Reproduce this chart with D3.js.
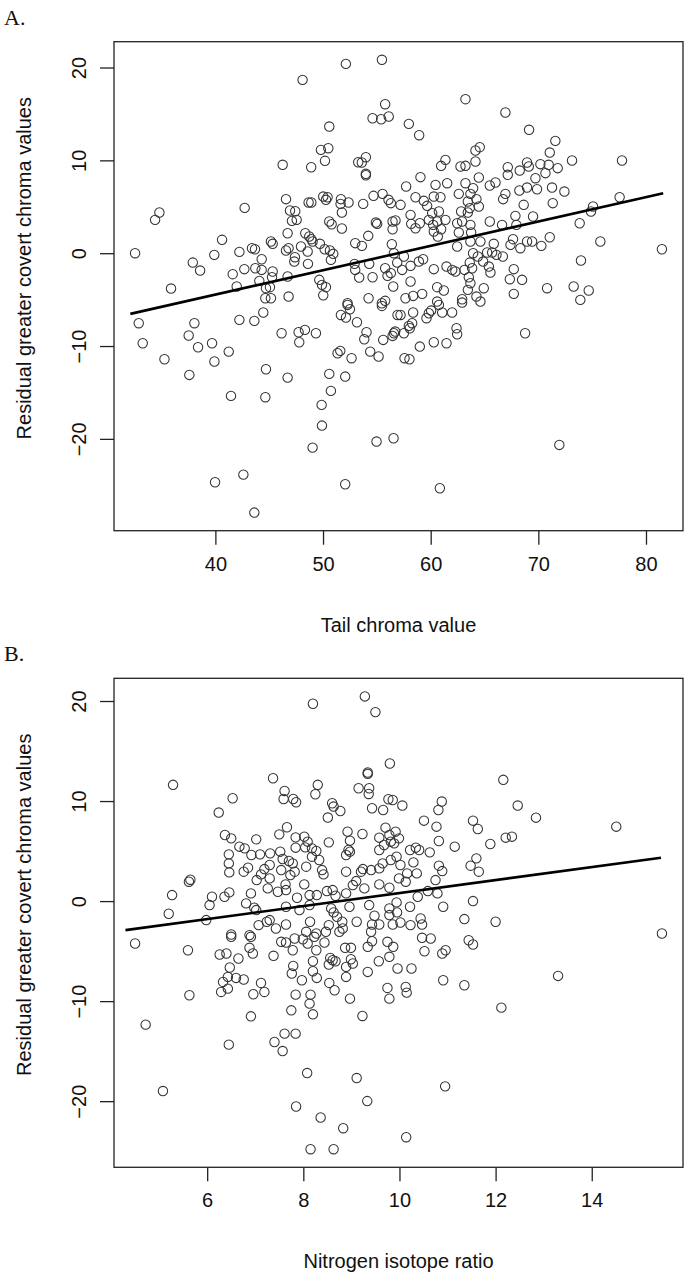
<!DOCTYPE html>
<html><head><meta charset="utf-8">
<script src="https://cdn.jsdelivr.net/npm/d3@7"></script>
<style>body{margin:0;background:#fff}</style>
</head><body><svg id="c" width="685" height="1275"></svg>
<script>
// Panel A: tail chroma value vs residual greater covert chroma
const panelAPoints = [
[52.12,20.39],[55.47,20.83],[48.1,18.67],[55.77,16.05],[54.6,14.54],[55.4,14.43],[56.1,14.72],[50.58,13.64],[49.8,11.13],[50.49,11.31],[50.18,9.95],[46.25,9.52],[48.9,9.26],[53.27,9.8],[53.98,10.34],[53.6,9.77],[53.98,8.55],[53.98,8.4],[34.8,4.38],[34.4,3.59],[42.72,4.88],[46.56,5.82],[46.93,4.6],[47.42,4.52],[47.11,3.48],[47.55,3.59],[48.66,5.46],[48.91,5.46],[50.02,6.1],[50.27,5.75],[50.42,6.03],[51.66,5.82],[51.63,5.31],[52.37,5.46],[51.75,4.38],[53.73,5.31],[54.69,6.18],[55.53,6.39],[56.08,5.75],[56.3,5.39],[50.58,3.41],[50.8,3.12],[51.75,2.66],[54.91,3.3],[55.03,3.16],[56.46,3.41],[56.46,2.58],[46.71,2.15],[48.35,2.15],[48.72,1.8],[49.03,1.26],[49.71,1.01],[50.15,0.43],[50.64,0.29],[50.95,-0.07],[50.73,-0.72],[48.91,1.51],[52.99,1.08],[53.61,0.79],[54.2,1.87],[56.39,0.97],[40.62,1.44],[39.9,-0.18],[42.23,0.14],[43.4,0.54],[43.68,0.43],[45.16,1.26],[45.32,1.01],[46.56,0.29],[46.8,0.54],[47.95,0.72],[47.39,-0.43],[47.33,-0.9],[48.57,0.18],[48.6,-1.15],[44.3,-0.65],[43.71,-1.62],[42.69,-1.72],[44.3,-1.8],[45.32,-1.97],[45.26,-2.59],[44.08,-2.98],[41.61,-2.26],[41.98,-3.59],[37.9,-1.01],[38.58,-1.87],[32.54,0],[35.88,-3.81],[46.71,-2.51],[44.7,-3.77],[45.07,-3.66],[44.64,-4.85],[45.16,-4.85],[46.8,-4.67],[49.65,-2.87],[49.9,-3.41],[50.27,-3.66],[50.02,-4.53],[52.93,-1.15],[52.99,-1.8],[53.36,-2.62],[54.6,-2.59],[54.29,-1.15],[55.77,-1.62],[55.99,-2.44],[56.3,-2.15],[56.52,-3.59],[54.23,-4.85],[55.77,-5.13],[52.28,-5.39],[55.46,-5.39],
[63.23,16.59],[66.94,15.15],[69.14,13.29],[57.97,13.93],[58.93,12.71],[71.58,12.1],[71.06,10.84],[73.13,9.98],[77.77,9.98],[64.16,11.06],[64.56,11.42],[61.37,10.05],[60.97,9.41],[62.77,9.34],[63.23,9.41],[64.16,9.88],[67.16,9.26],[67.16,8.44],[68.27,8.9],[68.95,9.77],[69.11,9.34],[70.19,9.59],[70.96,9.52],[71.8,9.16],[70.66,8.62],[69.73,8.08],[59.05,8.19],[57.72,7.18],[60.45,7.36],[61.53,7.54],[64.47,8.15],[63.23,7.54],[63.94,7.0],[65.49,7.29],[66.02,7.61],[68.24,6.75],[68.95,7.07],[69.88,6.89],[71.27,7.07],[72.42,6.64],[66.94,6.39],[66.73,5.82],[71.34,5.39],[68.64,5.21],[77.55,6.03],[75.08,5.03],[74.89,4.49],[57.2,5.21],[58.59,6.03],[59.36,5.64],[60.29,6.1],[60.91,6.03],[59.67,5.1],[62.61,6.39],[63.69,6.39],[64.25,5.82],[63.45,5.57],[63.63,4.85],[64.47,5.03],[62.83,4.49],[63.45,4.38],[60.14,4.31],[60.76,4.49],[61.37,3.59],[60.6,3.41],[59.83,3.59],[58.13,4.13],[58.19,3.16],[58.99,3.23],[58.59,2.69],[60.23,3.05],[60.97,2.58],[60.29,2.33],[60.66,1.8],[56.73,3.52],[62.46,3.23],[62.92,3.41],[63.69,3.05],[62.61,2.23],[63.76,2.23],[65.49,3.41],[66.63,3.05],[67.87,4.02],[67.96,3.05],[69.51,3.95],[73.84,3.23],[71.06,1.72],[75.76,1.26],[81.48,0.43],[67.65,1.51],[67.41,0.9],[68.33,0.54],[68.95,1.26],[69.42,1.26],[70.28,0.79],[65.86,1.01],[65.71,0.07],[66.11,-0.18],[66.7,-0.36],[64.62,1.26],[63.69,1.26],[62.46,0.72],[63.94,0],[64.38,-0.36],[65.24,0.07],[64.87,-0.9],[65.4,-1.44],[65.55,-2.08],[63.63,-1.01],[63.85,-1.62],[63.14,-1.8],[62.3,-1.97],[61.47,-1.44],[62.0,-1.8],[60.29,-1.72],[59.3,-0.65],[58.9,-0.9],[58.13,-1.36],[57.51,-0.36],[56.89,-1.01],[56.58,0],[57.35,-1.8],[58.13,-3.05],[60.6,-3.66],[61.22,-4.02],[63.54,-2.59],[63.69,-3.23],[63.45,-3.95],[64.25,-4.67],[64.62,-5.21],[64.93,-3.77],[67.72,-1.72],[67.35,-2.8],[68.49,-2.87],[67.72,-4.38],[70.81,-3.77],[73.28,-3.59],[74.68,-4.02],[73.96,-0.79],[73.9,-5.03],[57.66,-4.85],[58.37,-4.6],[59.21,-4.38],[62.92,-4.96],[60.6,-5.21],
[32.88,-7.54],[33.25,-9.7],[35.27,-11.42],[38.05,-7.54],[37.52,-8.87],[38.39,-10.13],[39.69,-9.7],[39.91,-11.67],[41.24,-10.6],[37.58,-13.11],[42.23,-7.18],[43.62,-7.29],[44.45,-6.39],[46.15,-8.62],[47.73,-8.51],[48.32,-8.26],[47.79,-9.59],[49.34,-8.62],[44.7,-12.5],[46.71,-13.4],[41.45,-15.37],[44.64,-15.51],[50.58,-13.0],[50.73,-14.83],[49.87,-16.34],[49.9,-18.57],[49.03,-20.94],[52.06,-13.29],[51.35,-10.78],[51.6,-10.52],[52.65,-11.31],[51.66,-6.65],[52.13,-6.93],[52.28,-5.57],[52.5,-6.04],[53.15,-7.44],[54.04,-8.51],[53.83,-9.27],[54.38,-10.6],[55.16,-11.13],[55.59,-9.34],[56.46,-8.91],[56.7,-8.44],[55.47,-5.68],[56.92,-6.65],[54.97,-20.29],[56.55,-19.93],[39.97,-24.67],[42.6,-23.85],[43.62,-27.94],[52.06,-24.89],
[57.2,-6.65],[58.37,-6.39],[56.58,-8.62],[57.51,-8.62],[57.97,-7.83],[58.28,-7.54],[58.06,-8.08],[59.61,-7.0],[59.83,-6.47],[60.04,-6.18],[60.76,-5.57],[61.07,-6.39],[61.99,-6.39],[62.4,-8.08],[62.46,-8.73],[58.99,-10.06],[60.29,-9.59],[61.47,-9.7],[57.57,-11.31],[58.03,-11.42],[62.92,-5.32],[68.77,-8.62],[71.95,-20.65],[60.85,-25.32]
];
// Panel B: nitrogen isotope ratio vs residual greater covert chroma
const panelBPoints = [
[8.2,19.73],[9.28,20.46],[9.5,18.89],[9.8,13.75],[5.29,11.62],[7.37,12.28],[9.34,12.85],[9.34,12.72],[6.53,10.28],[6.24,8.85],[7.61,11.01],[7.59,10.21],[7.79,10.21],[7.85,9.88],[8.3,11.62],[8.25,10.68],[8.6,9.78],[8.63,9.45],[8.77,9.01],[8.51,8.35],[9.15,11.28],[9.37,11.28],[9.36,10.71],[9.43,9.28],[9.66,9.11],[9.77,10.18],[9.86,10.11],[6.37,6.61],[6.5,6.27],[6.67,5.44],[6.78,5.27],[7.02,6.17],[7.5,6.67],[7.66,7.38],[7.84,6.37],[8.02,6.44],[8.09,5.94],[7.84,5.34],[8.04,5.37],[8.18,5.27],[8.27,5.01],[8.53,5.87],[8.92,6.94],[8.97,6.04],[8.94,5.11],[8.97,4.94],[9.23,6.71],[8.89,4.61],[9.58,6.34],[9.71,7.34],[9.79,6.61],[9.58,5.11],[9.68,5.61],[9.82,5.94],[6.45,4.67],[6.45,3.77],[6.46,2.87],[6.92,4.61],[7.1,4.67],[7.31,4.77],[7.52,4.94],[7.57,4.21],[7.7,4.01],[7.78,3.77],[7.82,2.94],[7.73,2.6],[7.54,3.1],[7.3,3.61],[7.19,3.2],[7.12,2.67],[6.85,3.34],[6.76,2.94],[7.03,2.1],[7.3,2.27],[8.06,3.44],[8.18,4.44],[8.33,4.11],[8.39,3.1],[8.42,2.67],[8.89,2.94],[9.2,2.94],[9.24,3.2],[9.41,3.1],[9.58,3.27],[9.65,3.77],[9.82,4.11],[9.1,2.0],[9.27,1.27],[9.03,1.6],[9.58,1.67],[9.79,1.34],[8.02,1.67],[7.63,1.67],[7.47,0.93],[7.26,1.27],[7.64,1.1],[7.87,0.33],[8.13,0.6],[8.28,0.6],[8.49,1.0],[8.61,1.1],[8.67,0.53],[8.89,0.77],[8.58,-0.73],[8.63,-1.13],[8.7,-1.57],[8.81,-2.07],[8.82,-2.74],[8.75,-3.07],[9.11,-2.07],[9.37,-0.4],[9.48,-1.47],[9.43,-2.34],[9.58,-2.34],[9.41,-3.07],[9.79,-0.73],[9.79,-1.4],[9.86,-2.34],[5.62,1.94],[5.65,2.14],[5.27,0.6],[5.2,-1.27],[6.05,-0.4],[6.1,0.43],[6.36,0.43],[6.46,0.87],[6.91,0.77],[6.81,-0.23],[6.98,-0.67],[7.02,-0.9],[5.98,-1.9],[6.5,-3.34],[6.88,-3.4],[7.07,-2.4],[7.24,-2.07],[7.3,-1.9],[7.43,-2.74],[7.64,-2.34],[7.64,-0.57],[7.92,-0.9],[8.13,-0.4],[8.14,-2.07],[8.06,-3.07],[8.27,-3.24],[8.47,-3.07],[8.53,-2.4],[8.96,-0.57],
[12.16,12.12],[10.06,9.55],[10.88,9.95],[10.81,9.11],[12.46,9.55],[12.84,8.34],[14.51,7.44],[10.51,8.04],[10.77,7.44],[11.53,8.04],[11.63,7.21],[9.92,6.94],[9.99,6.27],[9.89,5.77],[10.82,6.01],[11.15,5.44],[11.89,5.71],[12.21,6.34],[12.34,6.44],[10.22,5.11],[10.34,5.34],[10.41,5.11],[10.63,4.87],[9.94,4.44],[10.02,3.61],[10.29,3.87],[10.36,2.77],[10.16,2.77],[9.99,2.27],[10.13,1.94],[10.82,3.54],[10.89,3.0],[10.75,2.1],[11.6,4.27],[11.48,3.54],[11.65,2.94],[10.59,1.0],[10.79,0.77],[10.38,0.43],[9.94,-0.13],[9.95,-1.13],[10.22,-0.57],[10.91,-0.57],[11.53,0],[10.02,-2.14],[10.23,-2.4],[10.44,-1.74],[10.47,-2.34],[11.35,-1.8],[12.0,-2.07],[15.46,-3.24],
[4.5,-4.24],[5.6,-4.91],[5.63,-9.41],[4.72,-12.35],[5.08,-18.99],[6.5,-3.57],[6.26,-5.34],[6.4,-5.24],[6.65,-5.74],[6.47,-6.64],[6.33,-8.08],[6.43,-7.58],[6.6,-7.68],[6.76,-7.84],[6.29,-9.08],[6.43,-8.75],[6.91,-3.57],[6.88,-4.67],[6.95,-5.24],[7.12,-8.18],[6.96,-9.31],[7.19,-9.08],[6.91,-11.52],[6.45,-14.35],[7.38,-5.47],[7.54,-4.07],[7.64,-4.14],[7.78,-4.91],[7.82,-3.74],[7.99,-3.81],[8.09,-4.24],[8.23,-3.57],[8.27,-4.91],[8.44,-4.14],[8.2,-6.01],[7.79,-6.48],[7.76,-7.24],[8.2,-7.01],[8.28,-7.68],[7.97,-7.91],[7.84,-9.35],[8.15,-9.35],[8.13,-10.25],[8.2,-11.32],[7.75,-10.92],[7.61,-13.25],[7.4,-14.09],[7.84,-13.25],[7.57,-14.99],[8.08,-17.19],[7.85,-20.53],[8.36,-21.63],[8.15,-24.8],[8.63,-24.8],[8.83,-22.7],[9.11,-17.69],[9.33,-19.99],[8.56,-5.68],[8.61,-5.91],[8.53,-6.34],[8.67,-6.01],[8.54,-8.18],[8.65,-8.91],[8.87,-4.67],[8.99,-4.67],[8.99,-5.81],[9.03,-6.24],[8.89,-6.58],[8.89,-7.58],[8.97,-9.75],[9.23,-11.48],[9.34,-7.08],[9.34,-4.57],[9.43,-4.01],[9.57,-6.01],[9.75,-4.07],[9.87,-4.57],[9.79,-5.57],[9.75,-8.68],[9.79,-9.75],[9.96,-6.74],
[10.47,-3.67],[10.65,-3.74],[10.52,-5.01],[10.89,-5.24],[10.96,-4.91],[11.44,-3.91],[11.53,-4.34],[10.25,-6.74],[10.13,-8.58],[10.15,-9.15],[10.91,-7.91],[11.35,-8.41],[12.12,-10.65],[13.3,-7.48],[10.95,-18.52],[10.14,-23.6]
];
// fitted lines: [intercept, slope], drawn over [xStart, xEnd]
const fitA = [-14.97, 0.2627];
const fitARange = [32.1, 81.6];
const fitB = [-5.7, 0.65];
const fitBRange = [4.3, 15.44];

const xTicksA = [40, 50, 60, 70, 80];
const xTicksB = [6, 8, 10, 12, 14];
const yTicks = [-20, -10, 0, 10, 20];

const panelLabels = ["A.", "B."];
const xTitles = ["Tail chroma value", "Nitrogen isotope ratio"];
const yTitle = "Residual greater covert chroma values";

const svg = d3.select("#c");
const box = {left: 114, right: 683, height: 489};
const tops = [41.7, 678.3];

function rDomain(vals) {
  const [a, b] = d3.extent(vals);
  const p = (b - a) * 0.04;
  return [a - p, b + p];
}

function panel(idx, pts, xTicks, fit, fitRange) {
  const top = tops[idx], bottom = top + box.height;
  const x = d3.scaleLinear().domain(rDomain(pts.map(d => d[0]))).range([box.left, box.right]);
  const y = d3.scaleLinear().domain(rDomain(pts.map(d => d[1]))).range([bottom, top]);
  const g = svg.append("g");

  g.append("rect").attr("x", box.left).attr("y", top)
    .attr("width", box.right - box.left).attr("height", box.height)
    .attr("fill", "none").attr("stroke", "#222").attr("stroke-width", 1.3);

  const xa = g.append("g").attr("transform", `translate(0,${bottom})`)
    .call(d3.axisBottom(x).tickValues(xTicks).tickSize(14).tickSizeOuter(0).tickPadding(12));
  xa.select(".domain").remove();
  xa.selectAll("line").attr("stroke", "#222").attr("stroke-width", 1.3);
  xa.selectAll("text").attr("font-family", "Liberation Sans, Arial, sans-serif")
    .attr("font-size", 20).attr("fill", "#111");

  const ya = g.append("g").attr("transform", `translate(${box.left},0)`)
    .call(d3.axisLeft(y).tickValues(yTicks).tickSize(14).tickSizeOuter(0)
      .tickFormat(d => d < 0 ? "\u2212" + Math.abs(d) : d));
  ya.select(".domain").remove();
  ya.selectAll("line").attr("stroke", "#222").attr("stroke-width", 1.3);
  ya.selectAll("text").attr("font-family", "Liberation Sans, Arial, sans-serif")
    .attr("font-size", 20).attr("fill", "#111")
    .attr("text-anchor", "middle").attr("x", null).attr("dy", null)
    .attr("transform", "translate(-28,0) rotate(-90)");

  g.append("g").selectAll("circle").data(pts).join("circle")
    .attr("cx", d => x(d[0])).attr("cy", d => y(d[1])).attr("r", 4.7)
    .attr("fill", "none").attr("stroke", "#333").attr("stroke-width", 1.05);

  g.append("line")
    .attr("x1", x(fitRange[0])).attr("y1", y(fit[0] + fit[1] * fitRange[0]))
    .attr("x2", x(fitRange[1])).attr("y2", y(fit[0] + fit[1] * fitRange[1]))
    .attr("stroke", "#000").attr("stroke-width", 2.6);

  g.append("text").attr("x", (box.left + box.right) / 2).attr("y", bottom + 101)
    .attr("text-anchor", "middle").attr("font-family", "Liberation Sans, Arial, sans-serif")
    .attr("font-size", 20).attr("fill", "#111").text(xTitles[idx]);

  g.append("text").attr("transform", `translate(31,${top + box.height / 2 - 18}) rotate(-90)`)
    .attr("text-anchor", "middle").attr("font-family", "Liberation Sans, Arial, sans-serif")
    .attr("font-size", 20).attr("fill", "#111").text(yTitle);

  g.append("text").attr("x", 4).attr("y", top - 17)
    .attr("font-family", "Liberation Serif, Times New Roman, serif")
    .attr("font-size", 22).attr("fill", "#111").text(panelLabels[idx]);
}

panel(0, panelAPoints, xTicksA, fitA, fitARange);
panel(1, panelBPoints, xTicksB, fitB, fitBRange);
</script>
</body></html>
